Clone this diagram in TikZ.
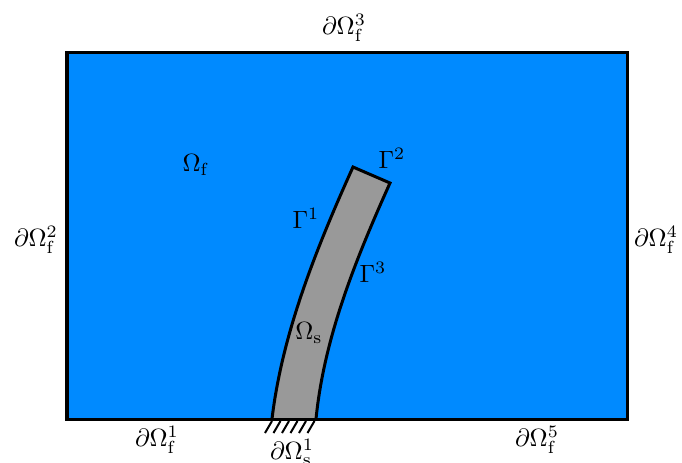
\documentclass[tikz,border=0pt]{standalone}
\usepackage{amsmath}
\definecolor{fluidblue}{RGB}{0,138,255}
\definecolor{solidgray}{RGB}{153,153,153}
\tikzset{
  wall/.style={line width=1.2pt},
  lbl/.style={inner sep=1pt}
}
\begin{document}
\begin{tikzpicture}[x=0.4pt,y=-0.4pt]
  \useasboundingbox (0,0) rectangle (682,462);
  % Fluid domain
  \fill[fluidblue] (67,52) rectangle (627,419);
  % Solid beam
  \draw[wall, fill=solidgray, line join=miter]
    (272,419) .. controls (282,335) and (315,251) .. (353,167)
    -- (390,183) .. controls (354,263) and (324,339) .. (316,419);
  \draw[wall] (67,52) rectangle (627,419);
  % Clamped support
  \foreach \x in {265,273.5,...,308} {
    \draw[line width=0.8pt] (\x,433) -- (\x+7,421);
  }
  % Boundary labels
  \node[lbl] (top) at (344,28) {$\partial\Omega_\mathrm{f}^3$};
  \node[lbl] (left) at (36,240) {$\partial\Omega_\mathrm{f}^2$};
  \node[lbl] (right) at (656,240) {$\partial\Omega_\mathrm{f}^4$};
  \node[lbl] (botl) at (157,440) {$\partial\Omega_\mathrm{f}^1$};
  \node[lbl] (botr) at (537,440) {$\partial\Omega_\mathrm{f}^5$};
  \node[lbl] (clamp) at (292,452) {$\partial\Omega_\mathrm{s}^1$};
  % Domain and interface labels
  \node[lbl] (fluid) at (196,165) {$\Omega_\mathrm{f}$};
  \node[lbl] (solid) at (309,333) {$\Omega_\mathrm{s}$};
  \node[lbl] (g1) at (306,218) {$\Gamma^1$};
  \node[lbl] (g2) at (392,158) {$\Gamma^2$};
  \node[lbl] (g3) at (373,272) {$\Gamma^3$};
\end{tikzpicture}
\end{document}
